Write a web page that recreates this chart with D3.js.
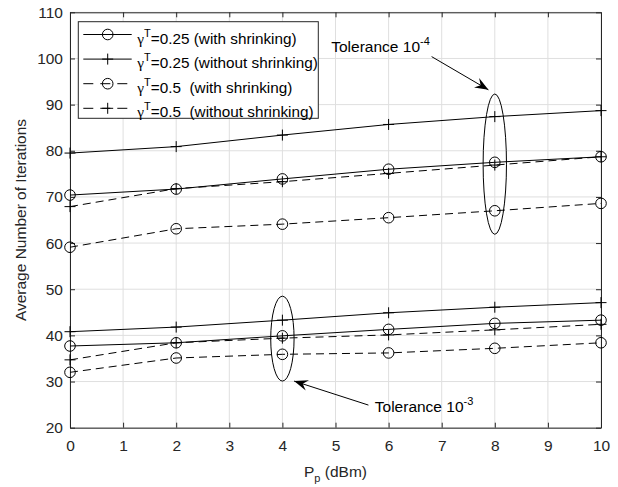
<!DOCTYPE html>
<html>
<head>
<meta charset="utf-8">
<script src="https://cdn.jsdelivr.net/npm/d3@7"></script>
<style>
  body { margin: 0; background: #fff; }
  text { font-family: "Liberation Sans", Arial, sans-serif; }
</style>
</head>
<body>
<div id="chart"></div>
<script>
// transmit power P_p (dBm)
var pp = [0, 2, 4, 6, 8, 10];

// tolerance 1e-4
var g025ShrinkTol4   = [70.4, 71.7, 73.9, 76.0, 77.5, 78.7];
var g025NoShrinkTol4 = [79.5, 80.9, 83.4, 85.7, 87.4, 88.7];
var g05ShrinkTol4    = [59.1, 63.1, 64.1, 65.5, 67.0, 68.6];
var g05NoShrinkTol4  = [67.9, 71.8, 73.3, 75.1, 76.9, 78.7];

// tolerance 1e-3
var g025ShrinkTol3   = [37.7, 38.4, 39.9, 41.3, 42.6, 43.3];
var g025NoShrinkTol3 = [40.8, 41.8, 43.3, 44.9, 46.1, 47.1];
var g05ShrinkTol3    = [32.0, 35.1, 35.9, 36.2, 37.2, 38.4];
var g05NoShrinkTol3  = [34.7, 38.4, 39.4, 40.1, 41.2, 42.4];

var xTicks = d3.range(0, 11, 1);
var yTicks = d3.range(20, 111, 10);

var legendGamma = ["0.25", "0.25", "0.5 ", "0.5 "];
var legendNote = ["(with shrinking)", "(without shrinking)", "(with shrinking)", "(without shrinking)"];

// annotation ellipses (data units) and arrows
var ellipses = [
  {x: 8, y: 77.1, rx: 0.22, ry: 15.2},
  {x: 4, y: 39.3, rx: 0.22, ry: 9.2}
];
var arrows = [
  {x1: 6.81, y1: 100.4, x2: 7.88, y2: 93.2},
  {x1: 5.62, y1: 24.9, x2: 4.22, y2: 30.1}
];
var notes = [
  {x: 4.92, y: 101.4, exp: "-4"},
  {x: 5.74, y: 23.4, exp: "-3"}
];

var series = [
  {dash: null,  marker: "circle", tol4: g025ShrinkTol4,   tol3: g025ShrinkTol3},
  {dash: null,  marker: "plus",   tol4: g025NoShrinkTol4, tol3: g025NoShrinkTol3},
  {dash: "8,5", marker: "circle", tol4: g05ShrinkTol4,    tol3: g05ShrinkTol3},
  {dash: "8,5", marker: "plus",   tol4: g05NoShrinkTol4,  tol3: g05NoShrinkTol3}
];

var W = 618, H = 487;
var margin = {top: 12.3, right: 17, bottom: 59.3, left: 70};
var width = W - margin.left - margin.right,
    height = H - margin.top - margin.bottom;
var axisCol = "#262626", fs = 15.5;

var svg = d3.select("#chart").append("svg")
  .attr("width", W).attr("height", H);

svg.append("defs").append("marker")
  .attr("id", "head")
  .attr("markerUnits", "userSpaceOnUse")
  .attr("viewBox", "-14 -6 15 12")
  .attr("markerWidth", 15).attr("markerHeight", 12)
  .attr("refX", 0).attr("refY", 0)
  .attr("orient", "auto")
  .append("path")
  .attr("d", "M0,0 L-14,-5.5 L-9,0 L-14,5.5 Z")
  .attr("fill", "#000");

var g = svg.append("g").attr("transform", "translate(" + margin.left + "," + margin.top + ")");

var x = d3.scaleLinear().domain([0, 10]).range([0, width]);
var y = d3.scaleLinear().domain([20, 110]).range([height, 0]);

// grid
g.append("g").selectAll("line").data(xTicks).enter().append("line")
  .attr("x1", function(d) { return x(d); }).attr("x2", function(d) { return x(d); })
  .attr("y1", 0).attr("y2", height)
  .attr("stroke", "#dfdfdf").attr("stroke-width", 1);
g.append("g").selectAll("line").data(yTicks).enter().append("line")
  .attr("y1", function(d) { return y(d); }).attr("y2", function(d) { return y(d); })
  .attr("x1", 0).attr("x2", width)
  .attr("stroke", "#dfdfdf").attr("stroke-width", 1);

// axes (ticks pointing inward, box on)
function styleAxis(sel) {
  sel.select(".domain").attr("stroke", axisCol);
  sel.selectAll(".tick line").attr("stroke", axisCol);
  sel.selectAll("text").attr("fill", axisCol).style("font-size", fs + "px")
    .style("font-family", '"Liberation Sans", Arial, sans-serif');
}
g.append("g").attr("transform", "translate(0," + height + ")")
  .call(d3.axisBottom(x).tickValues(xTicks).tickSize(-5).tickSizeOuter(0).tickPadding(12).tickFormat(d3.format("d")))
  .call(styleAxis);
g.append("g")
  .call(d3.axisTop(x).tickValues(xTicks).tickSize(-5).tickSizeOuter(0).tickFormat(""))
  .call(styleAxis);
g.append("g")
  .call(d3.axisLeft(y).tickValues(yTicks).tickSize(-5).tickSizeOuter(0).tickPadding(7).tickFormat(d3.format("d")))
  .call(styleAxis);
g.append("g").attr("transform", "translate(" + width + ",0)")
  .call(d3.axisRight(y).tickValues(yTicks).tickSize(-5).tickSizeOuter(0).tickFormat(""))
  .call(styleAxis);

// series lines and markers
var line = d3.line()
  .x(function(d, i) { return x(pp[i]); })
  .y(function(d) { return y(d); });

function drawMarker(sel, type, cx, cy) {
  if (type === "circle") {
    sel.append("circle").attr("cx", cx).attr("cy", cy).attr("r", 5.3)
      .attr("fill", "none").attr("stroke", "#000").attr("stroke-width", 1);
  } else {
    sel.append("path")
      .attr("d", "M" + (cx - 5.5) + "," + cy + "H" + (cx + 5.5) + "M" + cx + "," + (cy - 5.5) + "V" + (cy + 5.5))
      .attr("fill", "none").attr("stroke", "#000").attr("stroke-width", 1);
  }
}

series.forEach(function(s) {
  [s.tol4, s.tol3].forEach(function(vals) {
    var sg = g.append("g");
    sg.append("path").datum(vals)
      .attr("d", line)
      .attr("fill", "none").attr("stroke", "#000").attr("stroke-width", 1)
      .attr("stroke-dasharray", s.dash);
    vals.forEach(function(v, i) { drawMarker(sg, s.marker, x(pp[i]), y(v)); });
  });
});

// ellipses
g.selectAll(".ell").data(ellipses).enter().append("ellipse")
  .attr("class", "ell")
  .attr("cx", function(d) { return x(d.x); })
  .attr("cy", function(d) { return y(d.y); })
  .attr("rx", function(d) { return x(d.rx) - x(0); })
  .attr("ry", function(d) { return y(0) - y(d.ry); })
  .attr("fill", "none").attr("stroke", "#000").attr("stroke-width", 1);

// arrows
g.selectAll(".arr").data(arrows).enter().append("line")
  .attr("class", "arr")
  .attr("x1", function(d) { return x(d.x1); })
  .attr("y1", function(d) { return y(d.y1); })
  .attr("x2", function(d) { return x(d.x2); })
  .attr("y2", function(d) { return y(d.y2); })
  .attr("stroke", "#000").attr("stroke-width", 1)
  .attr("marker-end", "url(#head)");

// tolerance labels
var nt = g.selectAll(".note").data(notes).enter().append("text")
  .attr("class", "note")
  .attr("x", function(d) { return x(d.x); })
  .attr("y", function(d) { return y(d.y); })
  .style("font-size", fs + "px").attr("fill", "#000");
nt.append("tspan").text("Tolerance 10");
nt.append("tspan").attr("dy", -7).style("font-size", "11px").text(function(d) { return d.exp; });

// axis titles
svg.append("text")
  .attr("x", margin.left + width / 2).attr("y", 477)
  .attr("text-anchor", "middle").style("font-size", fs + "px").attr("fill", axisCol)
  .call(function(t) {
    t.append("tspan").text("P");
    t.append("tspan").attr("dy", 5).style("font-size", "11px").text("p");
    t.append("tspan").attr("dy", -5).text(" (dBm)");
  });

svg.append("text")
  .attr("transform", "translate(26," + (margin.top + height / 2) + ") rotate(-90)")
  .attr("text-anchor", "middle").style("font-size", fs + "px").attr("fill", axisCol)
  .text("Average Number of Iterations");

// legend
var lg = svg.append("g");
lg.append("rect")
  .attr("x", 78.3).attr("y", 21.7).attr("width", 240).attr("height", 96.6)
  .attr("fill", "#fff").attr("stroke", axisCol).attr("stroke-width", 1);

var rows = lg.selectAll(".row").data(series).enter().append("g")
  .attr("class", "row")
  .attr("transform", function(d, i) { return "translate(0," + (34.5 + i * 24.6) + ")"; });

rows.append("line")
  .attr("x1", 83.3).attr("x2", 131.7).attr("y1", 0).attr("y2", 0)
  .attr("stroke", "#000").attr("stroke-width", 1)
  .attr("stroke-dasharray", function(d) { return d.dash ? "10,7" : null; });
rows.each(function(d) { drawMarker(d3.select(this), d.marker, 107.7, 0); });

var lt = rows.append("text")
  .attr("x", 137.3).attr("y", 9)
  .style("font-size", "15.3px").style("white-space", "pre").attr("fill", "#000");
lt.append("tspan").style("font-family", '"Liberation Serif", "Times New Roman", serif').text("\u03b3");
lt.append("tspan").attr("dy", -7).style("font-size", "11px").text("T");
lt.append("tspan").attr("dy", 7)
  .text(function(d, i) { return "=" + legendGamma[i] + " " + legendNote[i]; });
</script>
</body>
</html>
